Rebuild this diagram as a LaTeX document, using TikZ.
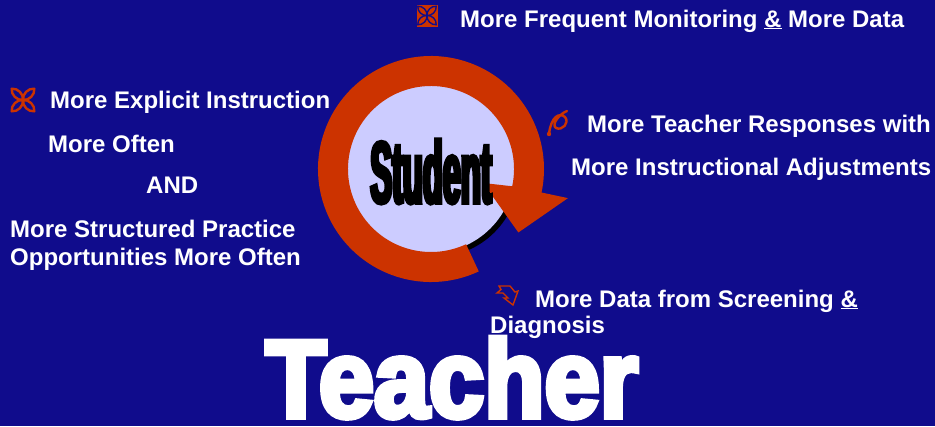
\documentclass[tikz,border=0pt]{standalone}
\usepackage{fontspec}
\setmainfont{Liberation Sans}
\newfontfamily\studentfont[FakeStretch=0.37,FakeBold=4]{Liberation Sans Bold}
\newfontfamily\teacherfont[FakeStretch=0.90,FakeBold=5]{Liberation Sans Bold}
\usetikzlibrary{calc}
\definecolor{bgblue}{HTML}{100C8C}
\definecolor{rust}{HTML}{CC3300}
\definecolor{lilac}{HTML}{CCCCFF}
\tikzset{
  item/.style={text=white, font=\bfseries\fontsize{24}{28}\selectfont, anchor=base west, inner sep=0pt},
  icon/.style={draw=rust, line width=2.4pt, line cap=round, line join=round},
}

\begin{document}
\begin{tikzpicture}[x=1pt, y=-1pt]
\fill[bgblue] (0,0) rectangle (935,426);
\coordinate (c) at (431,169);
% student disc and the loop
\fill[black] ($(c)+(4,4)$) circle[radius=84];
\fill[lilac] (c) circle[radius=84];
\fill[rust] ($(c)+(65:113)$) arc[start angle=65, end angle=372, radius=113]
  -- ($(c)+(12:140)$) -- ($(c)+(36:108)$) -- ($(c)+(15:54)$) -- ($(c)+(12:83)$)
  arc[start angle=372, end angle=65, radius=83] -- cycle;
\node[anchor=base, inner sep=0pt, font=\studentfont\fontsize{88}{88}\selectfont] (student) at (431,203) {Student};

% icons
\coordinate (x1) at (23,100);
\foreach \a in {45,135,225,315}
  \draw[icon] (x1) to[bend left=50] ++(\a:16) to[bend left=50] (x1);
\fill[rust] (416.5,4.5) rectangle (437.5,26.5);
\coordinate (x2) at (427,15.5);
\foreach \a in {45,135,225,315}
  \draw[bgblue, line width=1.4pt] (x2) to[bend left=50] ++(\a:13) to[bend left=50] (x2);
\draw[icon] (549,134) .. controls (551,117) and (559,112) .. (565,117)
  .. controls (570,123) and (562,131) .. (556,128)
  .. controls (551,125) and (559,114) .. (567,111);
\fill[rust] (549,134) circle[radius=2.2];
\draw[rust, line width=1.4pt, line join=miter] (499,286) -- (510,286) -- (515,292) -- (518,291)
  -- (513,305) -- (504,298) -- (508,298) -- (503,293) -- (497,293) -- (501,289.5) -- cycle;

% texts
\node[item] (mon) at (460,27) {More Frequent Monitoring \underline{\&} More Data};
\node[item] (expl) at (50,108) {More Explicit Instruction};
\node[item] (often) at (48,152) {More Often};
\node[item] (and) at (146,193) {AND};
\node[item] (struct) at (10,237) {More Structured Practice};
\node[item] (opp) at (10,265) {Opportunities More Often};
\node[item] (resp) at (587,132) {More Teacher Responses with};
\node[item] (adj) at (571,175) {More Instructional Adjustments};
\node[item] (screen) at (535,307) {More Data from Screening \underline{\&}};
\node[item] (diag) at (490,333) {Diagnosis};
\node[anchor=base, inner sep=0pt, text=white, font=\teacherfont\fontsize{110}{110}\selectfont] (teacher) at (452,417) {Teacher};
\end{tikzpicture}
\end{document}
